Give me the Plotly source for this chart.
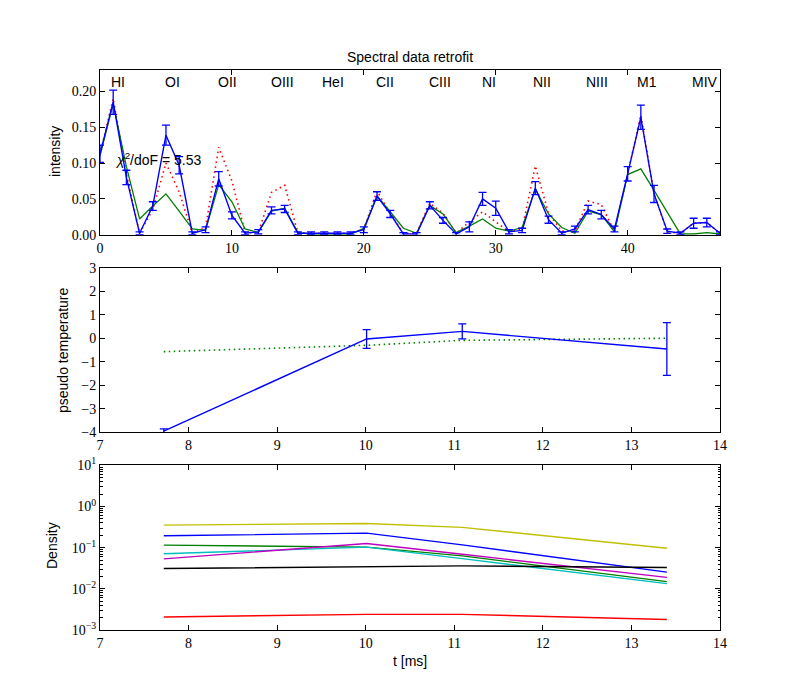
import plotly.graph_objects as go

# ---------------- data ----------------
channels = list(range(48))
measured = [0.113, 0.185, 0.080, 0.002, 0.040, 0.139, 0.097, 0.002, 0.007, 0.078,
            0.027, 0.002, 0.004, 0.034, 0.036, 0.002, 0.002, 0.002, 0.002, 0.002,
            0.007, 0.054, 0.029, 0.001, 0.001, 0.041, 0.020, 0.001, 0.011, 0.050,
            0.037, 0.004, 0.006, 0.065, 0.021, 0.002, 0.008, 0.035, 0.028, 0.008,
            0.085, 0.164, 0.057, 0.005, 0.002, 0.016, 0.017, 0.002]
measured_err = [0.012, 0.017, 0.010, 0.002, 0.006, 0.014, 0.012, 0.002, 0.004, 0.010,
                0.005, 0.002, 0.003, 0.005, 0.005, 0.002, 0.002, 0.002, 0.002, 0.002,
                0.004, 0.006, 0.005, 0.002, 0.002, 0.005, 0.004, 0.002, 0.007, 0.009,
                0.010, 0.003, 0.003, 0.009, 0.005, 0.002, 0.004, 0.006, 0.006, 0.004,
                0.010, 0.017, 0.012, 0.003, 0.002, 0.007, 0.006, 0.002]
model_a = [0.112, 0.190, 0.085, 0.002, 0.035, 0.100, 0.060, 0.002, 0.010, 0.122,
           0.075, 0.003, 0.003, 0.059, 0.069, 0.003, 0.002, 0.002, 0.002, 0.002,
           0.008, 0.061, 0.030, 0.002, 0.002, 0.044, 0.030, 0.002, 0.018, 0.032,
           0.018, 0.004, 0.008, 0.096, 0.030, 0.005, 0.005, 0.047, 0.042, 0.004,
           0.085, 0.167, 0.057, 0.004, 0.002, 0.016, 0.017, 0.002]
model_b = [0.110, 0.183, 0.095, 0.022, 0.040, 0.057, 0.033, 0.008, 0.006, 0.070,
           0.046, 0.008, 0.003, 0.033, 0.037, 0.003, 0.001, 0.001, 0.001, 0.001,
           0.009, 0.054, 0.032, 0.009, 0.002, 0.041, 0.029, 0.003, 0.012, 0.022,
           0.009, 0.005, 0.010, 0.064, 0.029, 0.010, 0.002, 0.033, 0.028, 0.004,
           0.084, 0.092, 0.062, 0.031, 0.001, 0.001, 0.003, 0.001]
line_labels = ["HI", "OI", "OII", "OIII", "HeI", "CII", "CIII", "NI", "NII", "NIII", "M1", "MIV"]
line_label_pos = [1.4, 5.5, 9.7, 13.8, 17.7, 21.6, 25.8, 29.5, 33.5, 37.7, 41.5, 45.9]
chi2_text = "<i>χ</i><sup>2</sup>/doF = 5.53"

times = [7.72, 10.01, 11.09, 13.40]
temp = [-3.95, -0.03, 0.29, -0.46]
temp_err = [0.10, 0.40, 0.32, 1.12]
temp_fit = [-0.57, -0.30, -0.09, 0.00]

dens_names = ["b", "g", "r", "c", "m", "y", "k"]
dens_colors = ["#0000ff", "#008000", "#ff0000", "#00bfbf", "#bf00bf", "#bfbf00", "#000000"]
dens_blue = [0.194, 0.225, 0.117, 0.0254]
dens_green = [0.115, 0.103, 0.063, 0.015]
dens_red = [0.00207, 0.0024, 0.0024, 0.0018]
dens_cyan = [0.0708, 0.103, 0.054, 0.0134]
dens_magenta = [0.0535, 0.126, 0.069, 0.019]
dens_yellow = [0.353, 0.387, 0.31, 0.097]
dens_black = [0.0311, 0.0348, 0.036, 0.0329]
dens_all = [dens_blue, dens_green, dens_red, dens_cyan, dens_magenta, dens_yellow, dens_black]

log_major = [1e-3, 1e-2, 1e-1, 1e0, 1e1]
log_major_text = ["10<sup>−3</sup>", "10<sup>−2</sup>", "10<sup>−1</sup>",
                  "10<sup>0</sup>", "10<sup>1</sup>"]
log_minor = [m * d for d in log_major[:-1] for m in range(2, 10)]

# ---------------- figure ----------------
SANS = "Liberation Sans, Arial, sans-serif"
SERIF = "Liberation Serif, Times New Roman, serif"
TICKFONT = dict(family=SERIF, size=14, color="black")

fig = go.Figure()

fig.add_trace(go.Scatter(x=channels, y=model_a, mode="lines",
                         line=dict(color="#ff0000", width=1.6, dash="1.5px,3.5px"),
                         xaxis="x", yaxis="y", showlegend=False))
fig.add_trace(go.Scatter(x=channels, y=model_b, mode="lines",
                         line=dict(color="#008000", width=1.3),
                         xaxis="x", yaxis="y", showlegend=False))
fig.add_trace(go.Scatter(x=channels, y=measured, mode="lines",
                         line=dict(color="#0000ff", width=1.4),
                         error_y=dict(type="data", array=measured_err, color="#0000ff",
                                      thickness=1.3, width=4),
                         xaxis="x", yaxis="y", showlegend=False))

fig.add_trace(go.Scatter(x=times, y=temp_fit, mode="lines",
                         line=dict(color="#008000", width=1.6, dash="1.5px,3.5px"),
                         xaxis="x2", yaxis="y2", showlegend=False))
fig.add_trace(go.Scatter(x=times, y=temp, mode="lines",
                         line=dict(color="#0000ff", width=1.4),
                         error_y=dict(type="data", array=temp_err, color="#0000ff",
                                      thickness=1.3, width=4),
                         xaxis="x2", yaxis="y2", showlegend=False))

for name, col, vals in zip(dens_names, dens_colors, dens_all):
    fig.add_trace(go.Scatter(x=times, y=vals, mode="lines", name=name,
                             line=dict(color=col, width=1.4),
                             xaxis="x3", yaxis="y3", showlegend=False))

XD = [0.125, 0.9]
common = dict(showline=True, linecolor="black", linewidth=1, mirror="ticks",
              ticks="inside", ticklen=5, tickcolor="black", showgrid=False,
              zeroline=False, automargin=False, tickfont=TICKFONT)

fig.update_layout(
    width=800, height=700,
    margin=dict(l=0, r=0, t=0, b=0, autoexpand=False),
    paper_bgcolor="white", plot_bgcolor="white",
    xaxis=dict(domain=XD, range=[0, 47], anchor="y", tickvals=[0, 10, 20, 30, 40], **common),
    yaxis=dict(domain=[0.6647, 0.9], range=[0, 0.23], anchor="x",
               tickvals=[0, 0.05, 0.10, 0.15, 0.20],
               ticktext=["0.00", "0.05", "0.10", "0.15", "0.20"], **common),
    xaxis2=dict(domain=XD, range=[7, 14], anchor="y2", tickvals=list(range(7, 15)), **common),
    yaxis2=dict(domain=[0.3824, 0.6176], range=[-4, 3], anchor="x2",
                tickvals=list(range(-4, 4)), **common),
    xaxis3=dict(domain=XD, range=[7, 14], anchor="y3", tickvals=list(range(7, 15)), **common),
    yaxis3=dict(domain=[0.1, 0.3353], type="log", range=[-3, 1], anchor="x3",
                tickvals=log_major, ticktext=log_major_text,
                minor=dict(tickvals=log_minor, ticks="inside", ticklen=2.5,
                           tickcolor="black", showgrid=False),
                **common),
)

anns = []
for lab, pos in zip(line_labels, line_label_pos):
    anns.append(dict(x=pos, y=0.213, xref="x", yref="y", text=lab, showarrow=False,
                     font=dict(family=SANS, size=14, color="black"),
                     xanchor="center", yanchor="middle"))
anns.append(dict(x=1.0, y=0.106, xref="x", yref="y", text=chi2_text, showarrow=False,
                 font=dict(family=SANS, size=14, color="black"),
                 xanchor="left", yanchor="middle"))
anns.append(dict(x=0.5125, y=1 - 57 / 700, xref="paper", yref="paper",
                 text="Spectral data retrofit", showarrow=False,
                 font=dict(family=SANS, size=14, color="black"),
                 xanchor="center", yanchor="middle"))
anns.append(dict(x=55 / 800, y=1 - 152 / 700, xref="paper", yref="paper",
                 text="intensity", textangle=-90, showarrow=False,
                 font=dict(family=SANS, size=14, color="black"),
                 xanchor="center", yanchor="middle"))
anns.append(dict(x=63 / 800, y=1 - 350 / 700, xref="paper", yref="paper",
                 text="pseudo temperature", textangle=-90, showarrow=False,
                 font=dict(family=SANS, size=14, color="black"),
                 xanchor="center", yanchor="middle"))
anns.append(dict(x=52 / 800, y=1 - 546 / 700, xref="paper", yref="paper",
                 text="Density", textangle=-90, showarrow=False,
                 font=dict(family=SANS, size=14, color="black"),
                 xanchor="center", yanchor="middle"))
anns.append(dict(x=0.5125, y=1 - 661 / 700, xref="paper", yref="paper",
                 text="t [ms]", showarrow=False,
                 font=dict(family=SANS, size=14, color="black"),
                 xanchor="center", yanchor="middle"))
fig.update_layout(annotations=anns)

fig.write_html("out.html", config={"displayModeBar": False},
               post_script="document.body.style.margin='0px';document.body.style.overflow='hidden';")
